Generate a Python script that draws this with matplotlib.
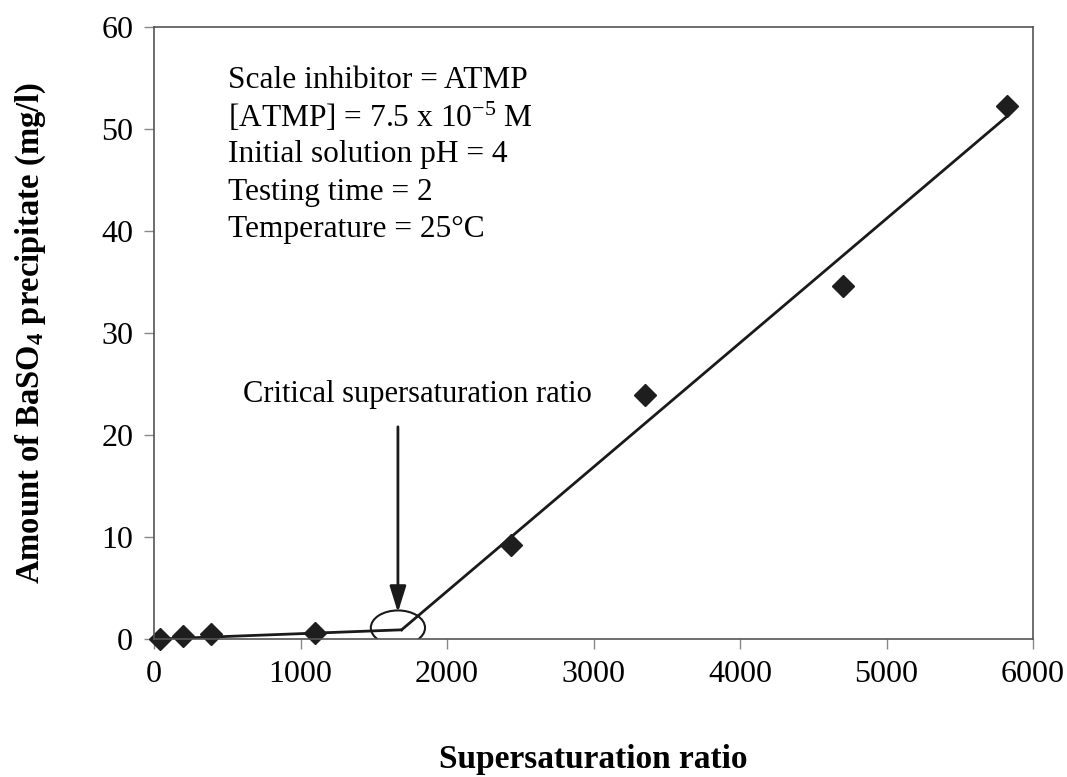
import matplotlib.pyplot as plt
from matplotlib.patches import Ellipse

plt.rcParams['font.family'] = ['Liberation Serif', 'DejaVu Serif']
plt.rcParams['mathtext.default'] = 'regular'

# --- données mesurées ---
ratio = [40, 200, 390, 1100, 2440, 3350, 4700, 5820]
precip = [0.0, 0.3, 0.5, 0.6, 9.2, 23.9, 34.6, 52.3]

# deux droites de tendance
fit1_x = [40, 1690]
fit1_y = [0.0, 0.9]
fit2_x = [1690, 5820]
fit2_y = [0.9, 51.2]

critical_x = 1665
critical_y = 1.1

conditions = [
    "Scale inhibitor = ATMP",
    "[ATMP] = 7.5 x 10$^{-5}$ M",
    "Initial solution pH = 4",
    "Testing time = 2",
    "Temperature = 25°C",
]

fig = plt.figure(figsize=(10.67, 7.77), dpi=100)
ax = fig.add_axes([154 / 1067, 1 - 639 / 777, 879 / 1067, 612 / 777])

ax.plot(fit1_x, fit1_y, color="#1a1a1a", lw=2)
ax.plot(fit2_x, fit2_y, color="#1a1a1a", lw=2)
ax.plot(ratio, precip, "D", color="#1e1e1e", ms=11, clip_on=False)

# cercle autour du point critique
ax.add_patch(Ellipse((critical_x, critical_y), 370, 3.4, fill=False,
                     edgecolor="#1a1a1a", lw=1.5))
ax.annotate("", xy=(critical_x, 2.6), xytext=(critical_x, 20.8),
            arrowprops=dict(arrowstyle="-|>,head_length=1.6,head_width=0.5",
                            color="#1a1a1a", lw=2, shrinkA=0, shrinkB=0))
ax.text(1800, 24, "Critical supersaturation ratio", ha="center", va="center",
        fontsize=22)

for i, line in enumerate(conditions):
    ax.text(505, 54.8 - i * 3.67, line, ha="left", va="center", fontsize=22.6)

ax.set_xlim(0, 6000)
ax.set_ylim(0, 60)
ax.set_xticks(range(0, 6001, 1000))
ax.set_yticks(range(0, 61, 10))
ax.tick_params(direction="out", length=7, width=1, color="#888888",
               labelsize=23, pad=8)
for s in ax.spines.values():
    s.set_color("#555555")
    s.set_linewidth(1.2)

ax.set_xlabel("Supersaturation ratio", fontsize=24, fontweight="bold",
              labelpad=40)
ax.set_ylabel("Amount of BaSO$_4$ precipitate (mg/l)", fontsize=23.5,
              fontweight="bold", labelpad=38)

fig.savefig("out.png", dpi=100)
